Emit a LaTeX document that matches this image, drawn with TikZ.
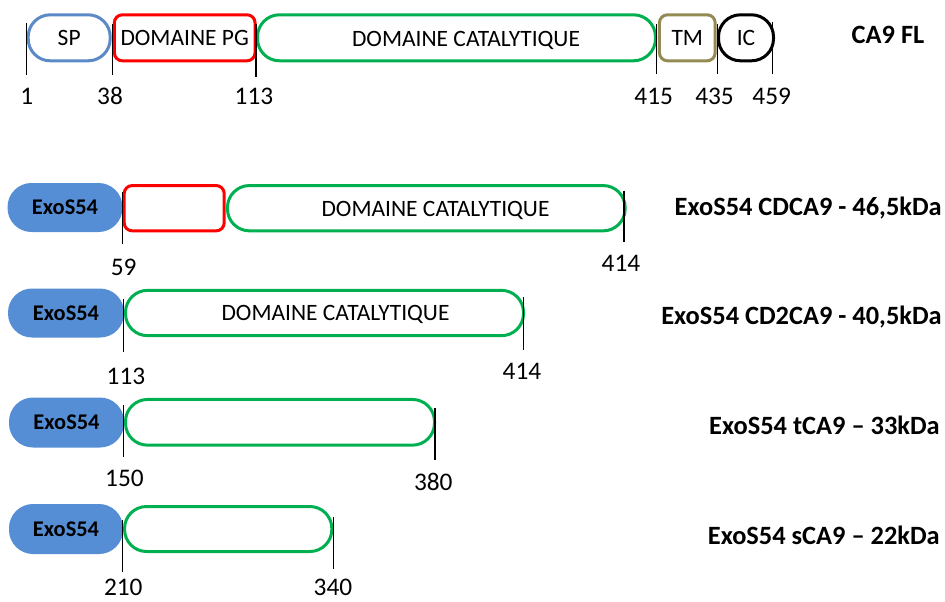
\documentclass[tikz,border=0pt]{standalone}
\usepackage{fontspec}
\setmainfont{Carlito}
\definecolor{spblue}{RGB}{91,138,198}
\definecolor{pillblue}{RGB}{85,142,213}
\definecolor{pgred}{RGB}{255,0,0}
\definecolor{catgreen}{RGB}{0,176,80}
\definecolor{tmolive}{RGB}{148,138,84}
\begin{document}
\begin{tikzpicture}[x=0.75pt,y=-0.75pt,
  sz/.style 2 args={minimum width=#1*0.75pt, minimum height=#2*0.75pt},
  dom/.style={draw, line width=2.25pt, fill=white, inner sep=0pt,
    font=\fontsize{17.6}{20}\selectfont, text height=11.3pt, text depth=0pt},
  roundend/.style={rounded corners=16.5pt},
  sqend/.style={rounded corners=6pt},
  txt/.style={inner sep=0pt, font=\fontsize{17.6}{20}\selectfont, text height=11.3pt, text depth=0pt},
  pillf/.style={fill=pillblue, inner sep=0pt, rounded corners=18pt,
    font=\bfseries\fontsize{16.8}{19}\selectfont, text height=10.8pt, text depth=0pt},
  num/.style={inner sep=0pt, font=\fontsize{19}{22}\selectfont, text height=12pt, text depth=0pt},
  ttl/.style={inner sep=0pt, font=\bfseries\fontsize{19.8}{23}\selectfont, text height=12.7pt, text depth=0pt},
  tick/.style={line width=1.1pt, black}
]
\useasboundingbox (0,0) rectangle (945,601);

% ---------- Row 1 : CA9 FL ----------
\node[dom, draw=spblue, roundend, sz={82}{46}] (sp) at (69.2,37.8) {SP};
\node[dom, draw=pgred, sqend, sz={140.7}{46}] (pg) at (184.7,37.8) {DOMAINE PG};
\node[dom, draw=catgreen, roundend, sz={398}{46}] (cat) at (456.5,37.8) {};
\node[txt] (catt) at (466,38.5) {DOMAINE CATALYTIQUE};
\node[dom, draw=tmolive, sqend, sz={55.7}{46}] (tm) at (687.3,37.8) {TM};
\node[dom, draw=black, rounded corners=16.5pt, sz={55}{46}] (ic) at (746,37.8) {IC};
\node[ttl] (fl) at (888,35) {CA9 FL};

\coordinate (a1) at (26.7,22.7);  \coordinate (b1) at (26.7,75);
\coordinate (a2) at (112.3,24);   \coordinate (b2) at (112.3,74.5);
\coordinate (a3) at (256,24);     \coordinate (b3) at (256,76.5);
\coordinate (a4) at (656.7,24);   \coordinate (b4) at (656.7,74);
\coordinate (a5) at (717.3,24);   \coordinate (b5) at (717.3,74);
\coordinate (a6) at (772.7,21.7); \coordinate (b6) at (772.7,74);
\foreach \i in {1,...,6} {\draw[tick] (a\i) -- (b\i);}
\node[num] (n1) at (26.7,96) {1};
\node[num] (n38) at (110,96) {38};
\node[num] (n113) at (254,96) {113};
\node[num] (n415) at (653.7,96) {415};
\node[num] (n435) at (714.5,96) {435};
\node[num] (n459) at (771.7,96) {459};

% ---------- Row 2 : CDCA9 ----------
\node[pillf, sz={115}{49}] (e2) at (65,207.5) {ExoS54};
\node[dom, draw=pgred, sqend, sz={100}{45.3}] (pg2) at (174.2,208.2) {};
\node[dom, draw=catgreen, roundend, sz={397.7}{45.3}] (cat2) at (426.3,208.2) {};
\node[txt] (cat2t) at (435.5,208.5) {DOMAINE CATALYTIQUE};
\node[ttl, anchor=east] (l2) at (942,207) {ExoS54 CDCA9 - 46,5kDa};
\coordinate (c1) at (122.5,192);  \coordinate (d1) at (122.5,244);
\coordinate (c2) at (624,190.7);  \coordinate (d2) at (624,241.7);
\draw[tick] (c1) -- (d1);
\draw[tick] (c2) -- (d2);
\node[num] (n59) at (123.7,267) {59};
\node[num] (n414a) at (621,263) {414};

% ---------- Row 3 : CD2CA9 ----------
\node[pillf, sz={116}{49}] (e3) at (66,313) {ExoS54};
\node[dom, draw=catgreen, roundend, sz={398}{45.3}] (cat3) at (324.5,313) {};
\node[txt] (cat3t) at (335.5,313.3) {DOMAINE CATALYTIQUE};
\node[ttl, anchor=east] (l3) at (942,316.5) {ExoS54 CD2CA9 - 40,5kDa};
\coordinate (e1) at (123.5,299);  \coordinate (f1) at (123.5,352);
\coordinate (e2b) at (523.5,297); \coordinate (f2) at (523.5,350);
\draw[tick] (e1) -- (f1);
\draw[tick] (e2b) -- (f2);
\node[num] (n113b) at (126,376) {113};
\node[num] (n414b) at (522,371) {414};

% ---------- Row 4 : tCA9 ----------
\node[pillf, sz={115}{50}] (e4) at (66.5,422.5) {ExoS54};
\node[dom, draw=catgreen, roundend, sz={309}{45.7}] (cat4) at (280,422.3) {};
\node[ttl, anchor=east] (l4) at (940,426.5) {ExoS54 tCA9 – 33kDa};
\coordinate (g1) at (123.3,405);  \coordinate (h1) at (123.3,457);
\coordinate (g2) at (435,408);    \coordinate (h2) at (435,460);
\draw[tick] (g1) -- (h1);
\draw[tick] (g2) -- (h2);
\node[num] (n150) at (124.5,478) {150};
\node[num] (n380) at (433.3,482.7) {380};

% ---------- Row 5 : sCA9 ----------
\node[pillf, sz={114}{50}] (e5) at (66,529) {ExoS54};
\node[dom, draw=catgreen, roundend, sz={207.3}{45}] (cat5) at (228.2,529) {};
\node[ttl, anchor=east] (l5) at (940,536.5) {ExoS54 sCA9 – 22kDa};
\coordinate (k1) at (122.3,520);  \coordinate (m1) at (122.3,572);
\coordinate (k2) at (333.3,517);  \coordinate (m2) at (333.3,569);
\draw[tick] (k1) -- (m1);
\draw[tick] (k2) -- (m2);
\node[num] (n210) at (123.3,587.5) {210};
\node[num] (n340) at (333,587.5) {340};
\end{tikzpicture}
\end{document}
